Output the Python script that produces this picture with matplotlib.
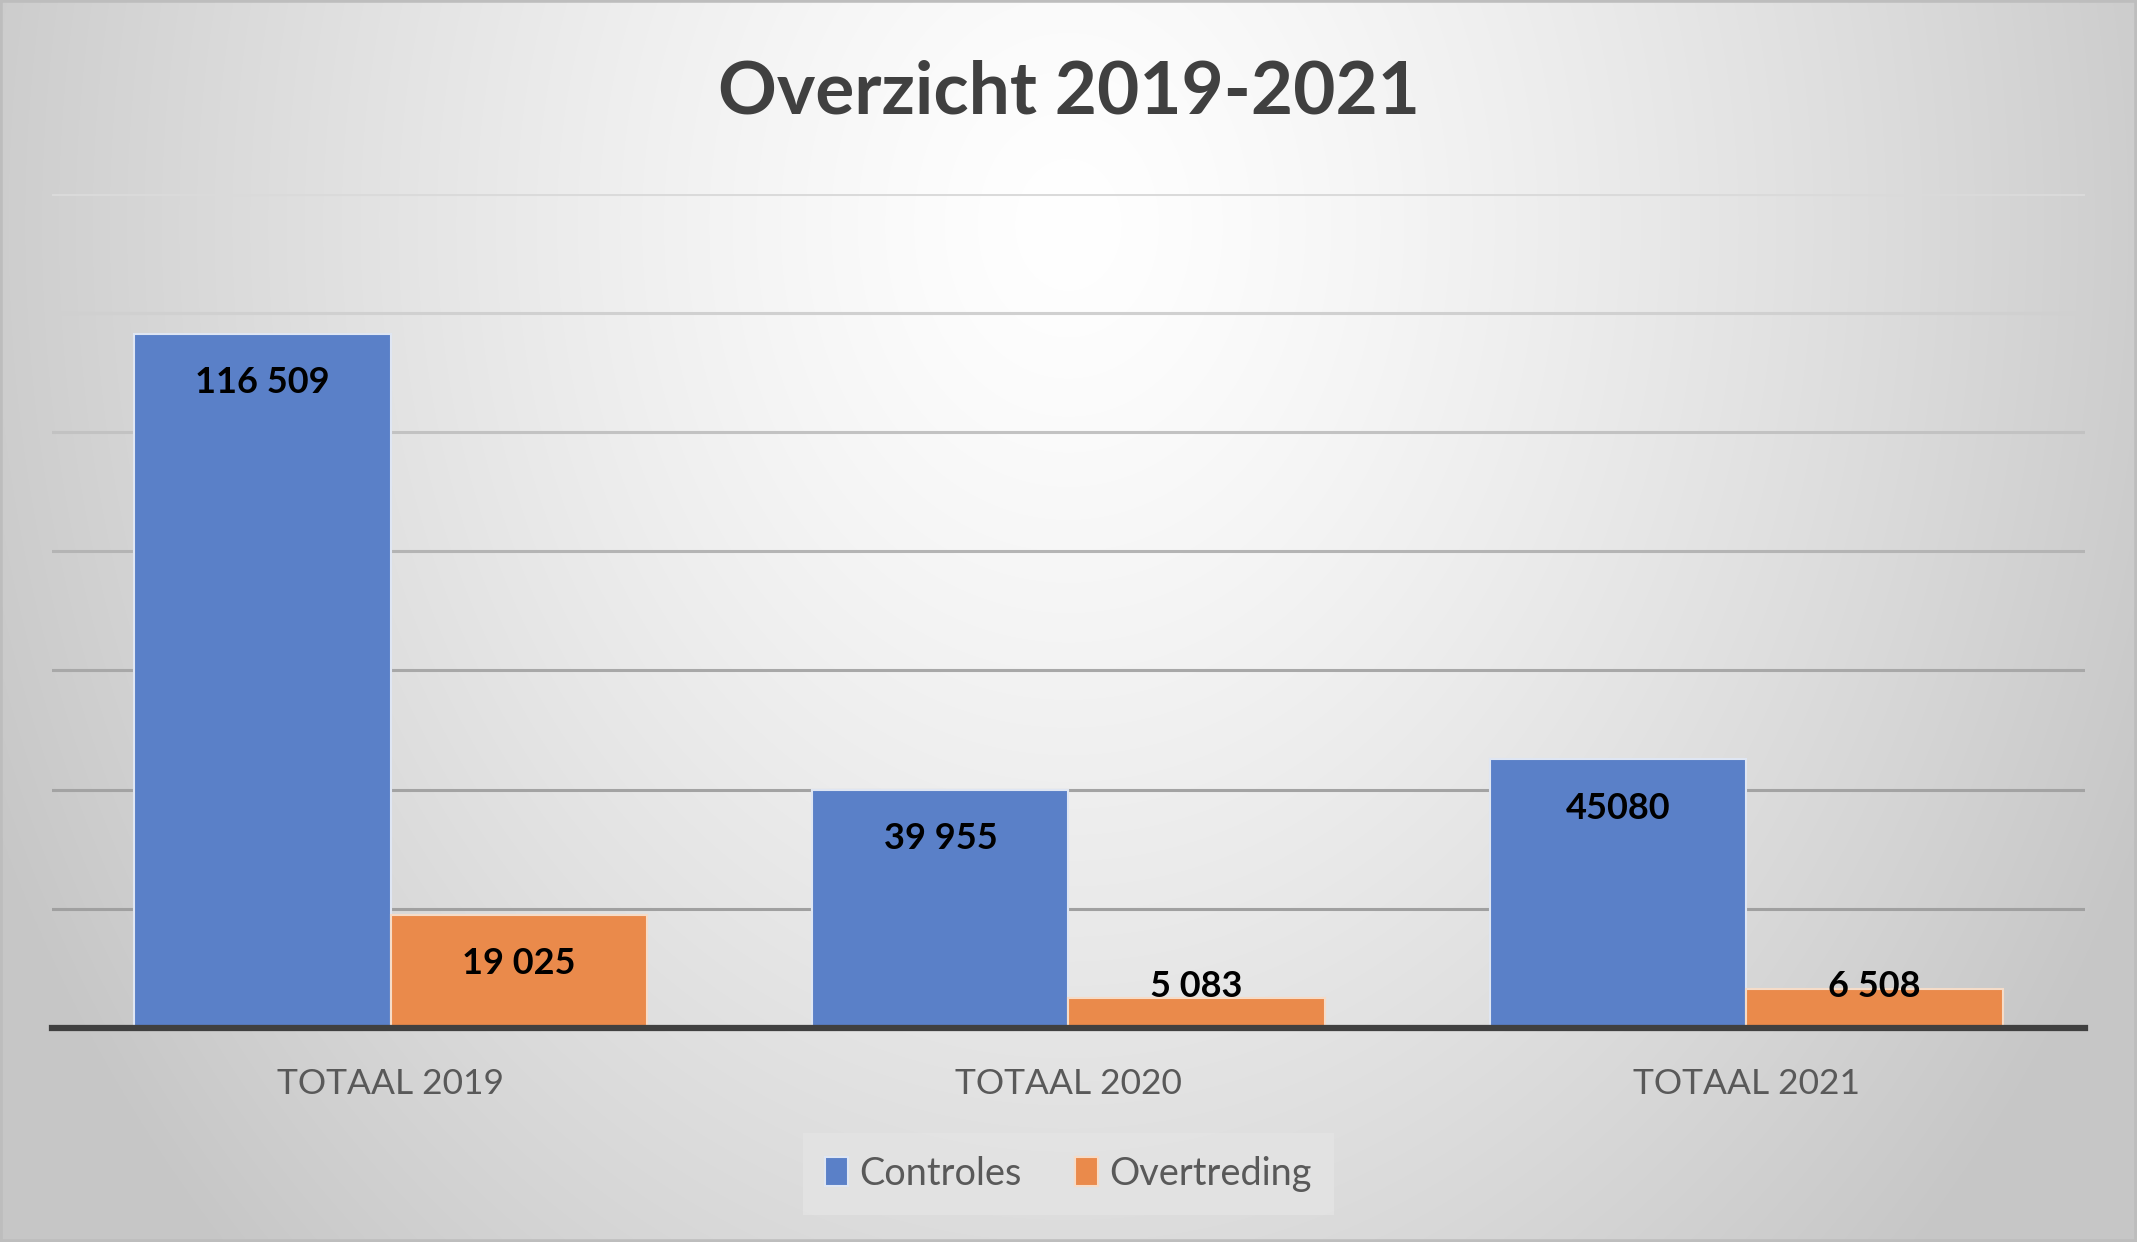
import numpy as np
import matplotlib
matplotlib.use("Agg")
import matplotlib.pyplot as plt
from matplotlib.patches import Rectangle

# ---- data ----
categories = ["TOTAAL 2019", "TOTAAL 2020", "TOTAAL 2021"]
controles = [116509, 39955, 45080]
overtreding = [19025, 5083, 6508]
controles_labels = ["116 509", "39 955", "45080"]
overtreding_labels = ["19 025", "5 083", "6 508"]
series_names = ["Controles", "Overtreding"]
title = "Overzicht 2019-2021"

plt.rcParams['font.family'] = ['Lato', 'DejaVu Sans']

W, H = 2137, 1242
fig = plt.figure(figsize=(W / 100, H / 100), dpi=100)

# background radial gradient
bg = fig.add_axes([0, 0, 1, 1], zorder=-10)
yy, xx = np.mgrid[0:1:300j, 0:1:500j]
d = np.sqrt(((xx - 0.5) / 0.7) ** 2 + ((yy - 0.18) / 1.5) ** 2)
val = np.clip(1 - 0.3 * d ** 1.3, 0.78, 1.0)
bg.imshow(np.dstack([val, val, val]), extent=[0, 1, 0, 1], aspect='auto',
          interpolation='bilinear', origin='upper')
bg.set_xlim(0, 1); bg.set_ylim(0, 1)
bg.axis('off')
bg.add_patch(Rectangle((0, 0), 1, 1, transform=bg.transAxes, fill=False,
                       edgecolor='#bdbdbd', linewidth=4, clip_on=False))

left, right = 38 / 1568, 1530 / 1568
bottom, top = 1 - 754 / 911, 1 - 142 / 911
ax = fig.add_axes([left, bottom, right - left, top - bottom])
ax.set_facecolor('none')

x = np.arange(len(categories))
bw = 0.378
blue = '#5a80c8'
orange = '#ea8a4b'
b1 = ax.bar(x - bw / 2, controles, bw, color=blue, edgecolor='#dfe6f3',
            linewidth=1.5, label=series_names[0], zorder=3)
b2 = ax.bar(x + bw / 2, overtreding, bw, color=orange, edgecolor='#f6dcc8',
            linewidth=1.5, label=series_names[1], zorder=3)

ax.set_xlim(-0.5, len(categories) - 0.5)
ax.set_ylim(0, 140000)
ax.set_yticks(np.arange(0, 140001, 20000))
ax.yaxis.grid(True, linewidth=2.2, zorder=1)
grid_cols = ['#9a9a9a', '#a0a0a0', '#a3a3a3', '#a8a8a8', '#b4b4b4', '#c2c2c2', '#d0d0d0', '#dadada']
for gl, c in zip(ax.yaxis.get_gridlines(), grid_cols):
    gl.set_color(c)
ax.tick_params(axis='y', left=False, labelleft=False)
ax.set_xticks(x)
ax.set_xticklabels(categories, fontsize=25.5, color='#595959')
ax.tick_params(axis='x', length=0, pad=29)
for s in ['top', 'right', 'left']:
    ax.spines[s].set_visible(False)
ax.spines['bottom'].set_color('#404040')
ax.spines['bottom'].set_linewidth(4.5)
ax.spines['bottom'].set_zorder(5)

# data labels (inside end)
off = 8200
minpos = 6900
for xi, v, lab in zip(x - bw / 2, controles, controles_labels):
    ax.text(xi, max(v - off, minpos), lab, ha='center', va='center',
            fontsize=26, fontweight='bold', color='black', zorder=6)
for xi, v, lab in zip(x + bw / 2, overtreding, overtreding_labels):
    ax.text(xi, max(v - off, minpos), lab, ha='center', va='center',
            fontsize=26, fontweight='bold', color='black', zorder=6)

fig.text(0.5, 1 - 68 / 911, title, ha='center', va='center', fontsize=52.5,
         fontweight='bold', color='#404040')

leg = fig.legend(handles=[b1, b2], labels=series_names, loc='center',
                 bbox_to_anchor=(0.5, 1 - 861 / 911), ncol=2, frameon=True,
                 fancybox=False, fontsize=27.3, handlelength=0.6, handleheight=0.8,
                 handletextpad=0.3, columnspacing=1.4, borderpad=0.6,
                 borderaxespad=0)
leg.get_frame().set_facecolor('#e4e4e4')
leg.get_frame().set_edgecolor('none')
for t in leg.get_texts():
    t.set_color('#595959')

fig.savefig('out.png', dpi=100)
